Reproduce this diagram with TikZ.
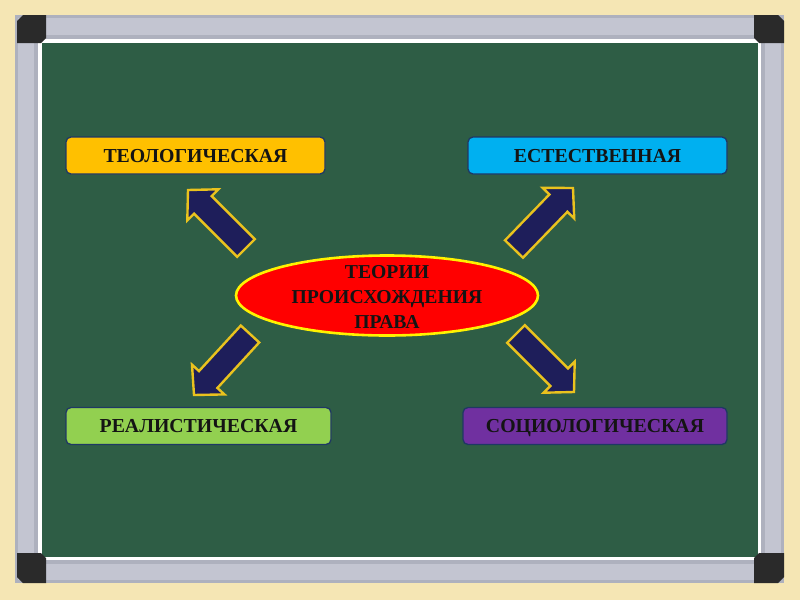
\documentclass[tikz,border=0pt]{standalone}
\usepackage{fontspec}
\setmainfont{Liberation Serif}
\usetikzlibrary{calc}
\definecolor{bgbeige}{HTML}{F5E6B4}
\definecolor{framegray}{HTML}{AEB1BE}
\definecolor{framelight}{HTML}{C3C5D1}
\definecolor{boardgreen}{HTML}{2E5D45}
\definecolor{cornerdark}{HTML}{2A2A2A}
\definecolor{arrownavy}{HTML}{1E1E5A}
\definecolor{arrowgold}{HTML}{EAC21E}
\definecolor{cgold}{HTML}{FFC000}
\definecolor{cblue}{HTML}{00B0F0}
\definecolor{cgreen}{HTML}{92D050}
\definecolor{cpurple}{HTML}{7030A0}
\definecolor{boxedge}{HTML}{1F3864}
\definecolor{txt}{HTML}{141414}
\newcommand\blockarrow[2]{%
  \filldraw[arrowbody]
    ($(#1)!12.5pt!90:(#2)$) --
    ($($(#2)!21pt!(#1)$)!12.5pt!-90:(#1)$) --
    ($($(#2)!21pt!(#1)$)!22pt!-90:(#1)$) --
    (#2) --
    ($($(#2)!21pt!(#1)$)!22pt!90:(#1)$) --
    ($($(#2)!21pt!(#1)$)!12.5pt!90:(#1)$) --
    ($(#1)!12.5pt!-90:(#2)$) -- cycle;}
\tikzset{
  theory/.style={draw=boxedge, line width=1.3pt, rounded corners=5pt, inner sep=0pt,
    minimum height=37pt, text height=14pt, text depth=1pt,
    font=\fontsize{19.8}{22}\selectfont\bfseries, text=txt},
  arrowbody/.style={fill=arrownavy, draw=arrowgold, line width=2.4pt, line join=miter},
  corner/.style={fill=cornerdark}
}
\begin{document}
\begin{tikzpicture}[x=1pt,y=-1pt]
\useasboundingbox (0,0) rectangle (800,600);
\fill[bgbeige] (0,0) rectangle (800,600);
% frame
\fill[framegray] (15,15) rectangle (784,583);
\fill[framelight] (18,18) rectangle (781,580);
\fill[framegray] (34,35) rectangle (765,564);
\fill[white] (38,39) rectangle (761,560);
\fill[boardgreen] (42,43) rectangle (758,557);
% corner blocks
\fill[corner] (17,21) -- (23,15) -- (46,15) -- (46,38) -- (41,43) -- (17,43) -- cycle;
\fill[corner] (754,15) -- (778,15) -- (784,21) -- (784,43) -- (759,43) -- (754,38) -- cycle;
\fill[corner] (17,553) -- (41,553) -- (46,558) -- (46,583) -- (23,583) -- (17,577) -- cycle;
\fill[corner] (759,553) -- (784,553) -- (784,577) -- (778,583) -- (754,583) -- (754,558) -- cycle;
% boxes
\node[theory, fill=cgold, minimum width=259pt] (teo) at (195.5,155.5) {ТЕОЛОГИЧЕСКАЯ};
\node[theory, fill=cblue, minimum width=259pt] (est) at (597.5,155.5) {ЕСТЕСТВЕННАЯ};
\node[theory, fill=cgreen, minimum width=265pt] (rea) at (198.5,426) {РЕАЛИСТИЧЕСКАЯ};
\node[theory, fill=cpurple, minimum width=264pt] (soc) at (595,426) {СОЦИОЛОГИЧЕСКАЯ};
% centre ellipse
\draw[fill=red, draw=yellow, line width=2.6pt] (387,295.5) ellipse [x radius=151pt, y radius=40pt];
\node[align=center, font=\fontsize{19.7}{25}\selectfont\bfseries, text=txt] (center) at (387,297) {ТЕОРИИ\\ПРОИСХОЖДЕНИЯ\\ПРАВА};
% arrows
\coordinate (t1) at (246,248); \coordinate (h1) at (188,190);
\coordinate (t2) at (514,249); \coordinate (h2) at (573,188);
\coordinate (t3) at (250,334); \coordinate (h3) at (194,395);
\coordinate (t4) at (516,334); \coordinate (h4) at (574,392);
\blockarrow{t1}{h1}
\blockarrow{t2}{h2}
\blockarrow{t3}{h3}
\blockarrow{t4}{h4}
\end{tikzpicture}
\end{document}
